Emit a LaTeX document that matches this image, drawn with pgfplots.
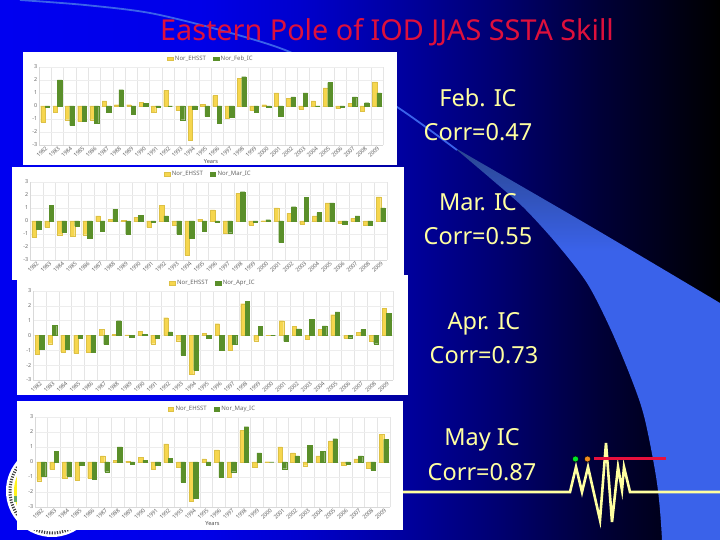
\documentclass[border=0pt]{standalone}
\usepackage{fontspec}
\setmainfont{Noto Sans}
\usepackage{pgfplots}
\pgfplotsset{compat=1.18}
\usepackage{pgfplotstable}
\definecolor{titlered}{RGB}{222,16,60}
\definecolor{txtyel}{RGB}{255,255,160}
\definecolor{swoosh}{RGB}{58,98,234}
\definecolor{swooshd}{RGB}{42,70,145}
\definecolor{barY}{RGB}{246,214,78}
\definecolor{barG}{RGB}{90,143,42}
\definecolor{bga}{RGB}{0,0,240}
\definecolor{bgb}{RGB}{0,0,232}
\definecolor{bgc}{RGB}{0,0,205}
\definecolor{bgd}{RGB}{0,0,160}
\definecolor{bge}{RGB}{0,0,112}
\definecolor{bgf}{RGB}{0,0,55}
\definecolor{bgg}{RGB}{0,0,0}
\definecolor{linered}{RGB}{232,16,60}
\definecolor{dotgreen}{RGB}{0,230,40}
\definecolor{dotorange}{RGB}{240,140,30}
\pgfdeclarehorizontalshading{slidebg}{100bp}{
 color(0bp)=(bga);
 color(25bp)=(bga);
 color(38.9bp)=(bgb);
 color(45.8bp)=(bgc);
 color(52.8bp)=(bgd);
 color(59.7bp)=(bge);
 color(66.7bp)=(bgf);
 color(75bp)=(bgg);
 color(100bp)=(bgg)}
\pgfdeclareverticalshading{swooshshade}{100bp}{
 color(0bp)=(swoosh);
 color(65bp)=(swoosh);
 color(75bp)=(swooshd);
 color(100bp)=(swooshd)}
\pgfplotstableread{
g fy  fg  my  mg  ay  ag  ny  ng
0 -1.25 -0.10 -1.25 -0.60 -1.25 -0.95 -1.25 -0.95
1 -0.50  2.00 -0.50  1.20 -0.55  0.70 -0.50  0.70
2 -1.05 -1.50 -1.05 -0.85 -1.10 -0.90 -1.10 -0.95
3 -1.20 -1.20 -1.15 -0.40 -1.20 -0.20 -1.20 -0.20
4 -1.05 -1.35 -1.05 -1.35 -1.10 -1.15 -1.10 -1.15
5  0.40 -0.45  0.40 -0.80  0.40 -0.60  0.40 -0.65
6  0.10  1.25  0.15  0.90  0.10  1.00  0.10  1.00
7  0.10 -0.60  0.05 -1.00  0.05 -0.10  0.05 -0.15
8  0.30  0.20  0.30  0.45  0.30  0.10  0.30  0.10
9 -0.50 -0.05 -0.50 -0.05 -0.55 -0.20 -0.50 -0.20
10 1.20  0.00  1.20  0.40  1.20  0.25  1.20  0.25
11 -0.35 -1.05 -0.35 -1.00 -0.35 -1.30 -0.35 -1.35
12 -2.60 -0.25 -2.60 -1.30 -2.60 -2.35 -2.60 -2.40
13 0.15 -0.80  0.15 -0.80  0.15 -0.20  0.20 -0.20
14 0.80 -1.35  0.85 -0.10  0.80 -1.00  0.80 -1.00
15 -0.95 -0.85 -0.95 -0.90 -1.00 -0.60 -1.00 -0.65
16 2.15  2.25  2.15  2.25  2.15  2.30  2.10  2.35
17 -0.35 -0.50 -0.30 -0.10 -0.35  0.60 -0.35  0.60
18 0.10 -0.10  0.02  0.10  0.02  0.00  0.02  0.00
19 1.00 -0.80  1.00 -1.65  1.00 -0.40  1.00 -0.45
20 0.60  0.70  0.60  1.10  0.60  0.45  0.60  0.40
21 -0.25 1.00 -0.25  1.80 -0.25  1.10 -0.25  1.10
22 0.40  0.00  0.40  0.65  0.40  0.65  0.40  0.70
23 1.40  1.80  1.40  1.40  1.40  1.60  1.40  1.55
24 -0.20 -0.05 -0.20 -0.25 -0.20 -0.15 -0.20 -0.15
25 0.20  0.70  0.20  0.40  0.20  0.40  0.20  0.40
26 -0.40 0.25 -0.35 -0.30 -0.40 -0.55 -0.40 -0.55
27 1.85  1.00  1.85  1.00  1.85  1.50  1.85  1.50
}\iod
\pgfplotsset{
 panel/.style={
  scale only axis,
  ybar=0pt, bar width=4.4pt,
  xmin=-0.5, xmax=27.5, ymin=-3, ymax=3,
  axis x line=bottom, axis y line=left,
  axis line style={draw=black!15,-},
  xtick={0,...,27},
  xticklabels={1982,1983,1984,1985,1986,1987,1988,1989,1990,1991,1992,1993,1994,1995,1996,1997,1998,1999,2000,2001,2002,2003,2004,2005,2006,2007,2008,2009},
  x tick label style={rotate=45,anchor=north east,inner sep=0.5pt,font=\fontsize{5.6}{6}\selectfont,text=black!60},
  ytick={-3,-2,-1,0,1,2,3},
  y tick label style={font=\fontsize{5.4}{6}\selectfont,text=black!60,inner sep=1.5pt},
  /pgf/number format/assume math mode=true,
  major tick length=0pt, minor tick length=0pt,
  minor xtick={-0.5,0.5,...,27.5},
  xminorgrids, ymajorgrids,
  minor x grid style={draw=black!10,line width=0.4pt},
  major y grid style={draw=black!7,line width=0.4pt},
  legend columns=2,
  legend style={draw=none,fill=none,at={(0.5,1.0)},anchor=south,yshift=3pt,
    font=\fontsize{6}{6}\selectfont,text=black!60,inner sep=0pt,
    /tikz/every even column/.style={column sep=5pt}},
  legend image code/.code={\fill[#1] (0pt,-1.8pt) rectangle (5.5pt,1.8pt);},
  xlabel style={font=\fontsize{5.6}{6}\selectfont,text=black!70,inner sep=1pt,yshift=0pt},
 },
 yb/.style={fill=barY,draw=barY!90!black,line width=0.2pt},
 gb/.style={fill=barG,draw=barG,line width=0.2pt},
}
\begin{document}
\begin{tikzpicture}
\useasboundingbox (0,0) rectangle (720pt,540pt);
\shade[shading=slidebg] (0,0) rectangle (720pt,540pt);
% backdrop of the slide
\begin{axis}[at={(0,0)},anchor=south west,scale only axis,width=720pt,height=540pt,
  xmin=0,xmax=720,ymin=0,ymax=540,y dir=reverse,hide axis]
\addplot[draw=none,shading=swooshshade,smooth,tension=0.5] coordinates {
 (457,149) (590,226) (720,303) (790,345) (790,620) (664,620) (662,540) (657,483) (645,420) (633,383) (611,330) (587,283) (556,243) (523,207) (490,178) (457,150)};
\addplot[draw=swoosh,line width=1.8pt,smooth] coordinates {
 (20,0) (85,5) (150,13) (220,30) (285,50) (345,79) (397,107) (457,150)};
\addplot[draw=txtyel,line width=2.6pt,line join=miter,miter limit=10] coordinates {
 (403,492) (570,492) (576,467) (582,492) (588,467) (600,520) (606,443) (612,522) (618,467) (622,490) (624,467) (630,492) (720,492)};
\addplot[draw=linered,line width=3pt] coordinates {(594,458) (666,458)};
\addplot[only marks,mark=*,mark size=3pt,mark options={fill=dotgreen,draw=none}] coordinates {(575.5,459)};
\addplot[only marks,mark=*,mark size=3pt,mark options={fill=dotorange,draw=none}] coordinates {(587.5,459)};
\end{axis}
% seal, partly under the last panel
\fill[white] (52pt,49pt) circle (46pt);
\draw[black!75,line width=3pt,dash pattern=on 1.2pt off 1.4pt] (52pt,49pt) circle (42pt);
\fill[yellow!90!white] (52pt,49pt) circle (38pt);
\fill[green!45!black!60] (14pt,38pt) rectangle (18pt,44pt);
% panel 1
\fill[white] (23pt,375pt) rectangle (397pt,488pt);
\begin{axis}[panel,at={(39pt,395pt)},anchor=south west,width=344pt,height=78pt,xlabel={\textbf{Years}}]
\addplot[yb] table[x=g,y=fy] {\iod};
\addplot[gb] table[x=g,y=fg] {\iod};
\legend{Nor\_EHSST,Nor\_Feb\_IC}
\end{axis}
% panel 2
\fill[white] (12pt,260pt) rectangle (404pt,373pt);
\begin{axis}[panel,at={(30pt,280pt)},anchor=south west,width=357pt,height=78pt]
\addplot[yb] table[x=g,y=my] {\iod};
\addplot[gb] table[x=g,y=mg] {\iod};
\legend{Nor\_EHSST,Nor\_Mar\_IC}
\end{axis}
% panel 3
\fill[white] (17pt,145pt) rectangle (408pt,265pt);
\begin{axis}[panel,at={(33pt,160pt)},anchor=south west,width=360pt,height=89pt]
\addplot[yb] table[x=g,y=ay] {\iod};
\addplot[gb] table[x=g,y=ag] {\iod};
\legend{Nor\_EHSST,Nor\_Apr\_IC}
\end{axis}
% panel 4
\fill[white] (17pt,10pt) rectangle (403pt,139pt);
\begin{axis}[panel,at={(35pt,33pt)},anchor=south west,width=355pt,height=90pt,xlabel={\textbf{Years}}]
\addplot[yb] table[x=g,y=ny] {\iod};
\addplot[gb] table[x=g,y=ng] {\iod};
\legend{Nor\_EHSST,Nor\_May\_IC}
\end{axis}
% slide text
\node[text=titlered,font=\fontsize{28.8}{30}\selectfont,anchor=base] at (387pt,499pt) {Eastern Pole of IOD JJAS SSTA Skill};
\tikzset{lab/.style={text=txtyel,font=\fontsize{23.5}{26}\selectfont,anchor=base}}
\node[lab] at (478pt,433pt) {Feb. IC};
\node[lab] at (478pt,399pt) {Corr=0.47};
\node[lab] at (478pt,329pt) {Mar. IC};
\node[lab] at (478pt,295pt) {Corr=0.55};
\node[lab] at (484pt,210pt) {Apr. IC};
\node[lab] at (484pt,176pt) {Corr=0.73};
\node[lab] at (482pt,94pt) {May IC};
\node[lab] at (482pt,59pt) {Corr=0.87};
\end{tikzpicture}
\end{document}
